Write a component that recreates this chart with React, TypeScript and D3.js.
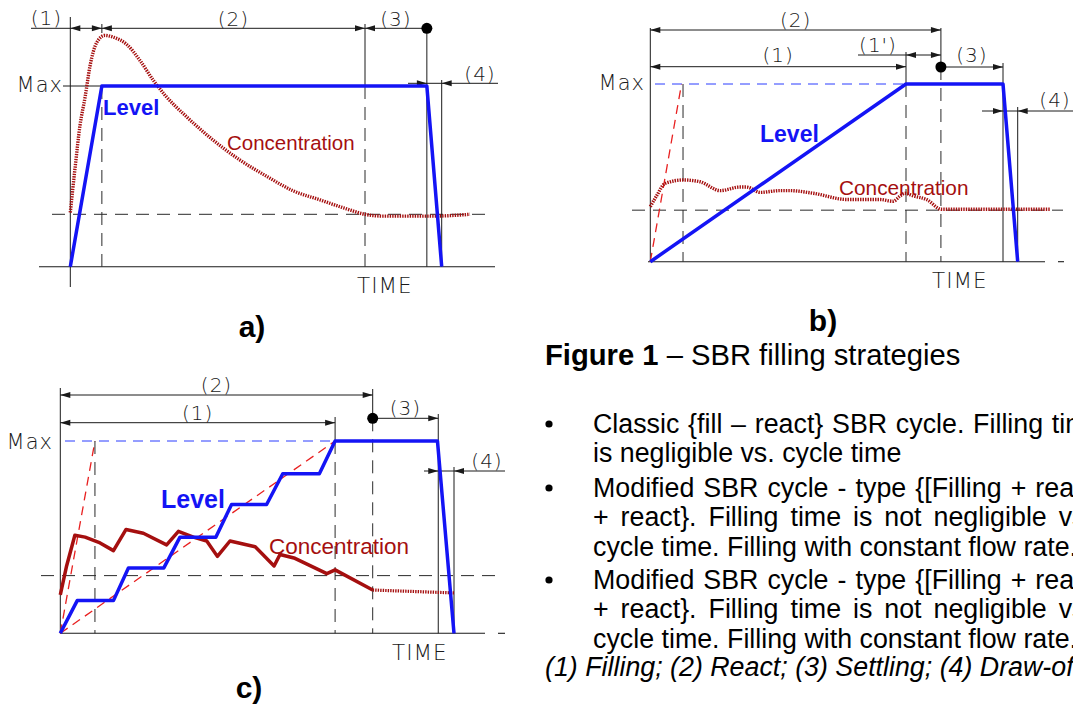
import React from "react";
import * as d3 from "d3";

// ---------------- a) classic fill - react cycle ----------------
const aLevelT = [0, 8.5, 96, 100];
const aLevelV = [0, 1, 1, 0];
const aConcT = [0, 1.3, 2.6, 4.0, 5.3, 7.1, 9.3, 11.6, 15.2, 18.8, 22.4, 25.9, 31.3, 38.5, 45.7, 52.9, 60.0, 67.2, 74.4, 79.3, 84.3, 97.7, 107.6];
const aConcV = [0.30, 0.55, 0.78, 0.94, 1.11, 1.24, 1.28, 1.27, 1.23, 1.14, 1.03, 0.94, 0.83, 0.70, 0.59, 0.50, 0.42, 0.37, 0.32, 0.29, 0.28, 0.28, 0.29];
const aPhases = [0, 8.5, 79.35, 96, 100]; // start, fill end, react end, settle end, draw-off end
const aResidual = 0.29;

// ---------------- b) constant flow filling ----------------
const bLevelT = [0, 69.6, 96, 100];
const bLevelV = [0, 1, 1, 0];
const bInstantT = [0, 8.5];
const bInstantV = [0, 1];
const bConcT = [0, 1.7, 4.0, 9.0, 13.5, 19.0, 24.4, 26.2, 29.9, 35.3, 38.0, 44.4, 53.5, 62.5, 66.1, 68.0, 69.3, 71.6, 75.2, 79.3, 85.2, 108.8];
const bConcV = [0.31, 0.37, 0.44, 0.46, 0.45, 0.40, 0.42, 0.42, 0.39, 0.40, 0.40, 0.385, 0.35, 0.35, 0.34, 0.37, 0.385, 0.37, 0.35, 0.295, 0.295, 0.295];
const bPhases = [0, 8.5, 69.6, 79.1, 96, 100]; // start, instant-fill ref, fill end, react end, settle end, draw-off end
const bResidual = 0.29;

// ---------------- c) stepwise filling ----------------
const cLevelT = [0, 4.3, 13.5, 17.3, 26.3, 30.4, 39.5, 43.5, 52.4, 56.5, 65.8, 69.8, 95.8, 100];
const cLevelV = [0, 0.17, 0.17, 0.34, 0.34, 0.50, 0.50, 0.67, 0.67, 0.83, 0.83, 1, 1, 0];
const cConcT = [0, 1.6, 3.7, 6.3, 10.1, 13.5, 16.7, 21.1, 27.0, 30.0, 33.8, 37.2, 39.9, 43.1, 49.5, 54.3, 55.8, 59.6, 67.7, 69.8, 79.35];
const cConcV = [0.20, 0.35, 0.51, 0.50, 0.47, 0.43, 0.54, 0.52, 0.46, 0.53, 0.50, 0.48, 0.40, 0.48, 0.45, 0.35, 0.41, 0.39, 0.31, 0.33, 0.225];
const cTailT = [79.35, 100];
const cTailV = [0.225, 0.21];
const cPhases = [0, 8.8, 69.8, 79.35, 96, 100];
const cResidual = 0.30;

// ---------------- caption text ----------------
const captionBold = "Figure 1";
const captionRest = " \u2013 SBR filling strategies";
const bulletLines = [
  ["Classic {fill \u2013 react} SBR cycle. Filling time", "is negligible vs. cycle time"],
  ["Modified SBR cycle - type {[Filling + react]", "+ react}. Filling time is not negligible vs.", "cycle time. Filling with constant flow rate."],
  ["Modified SBR cycle - type {[Filling + react]", "+ react}. Filling time is not negligible vs.", "cycle time. Filling with constant flow rate."],
];
const legendLine = "(1) Filling; (2) React; (3) Settling; (4) Draw-off";

const INK = "#1a1a1a";
const DASHINK = "#2a2a2a";
const BLUE = "#1414f5";
const RED = "#a50f0f";
const LRED = "#e82020";
const CAD: React.CSSProperties = { fontFamily: "'DejaVu Sans', sans-serif", fontWeight: 200 };
const ARIAL = "'Liberation Sans', Arial, sans-serif";
const DOTS = "1.4 1.1";

type XY = [number, number];

function Arrow({ x, y, dir }: { x: number; y: number; dir: number }) {
  const L = 10, H = 3;
  return <path d={`M${x},${y}L${x - dir * L},${y - H}L${x - dir * L},${y + H}Z`} fill={INK} />;
}
function HL({ x1, x2, y, dash, color = INK, w = 1 }: any) {
  return <line x1={x1} x2={x2} y1={y} y2={y} stroke={color} strokeWidth={w} strokeDasharray={dash} />;
}
function VL({ x, y1, y2, dash, color = INK, w = 1 }: any) {
  return <line x1={x} x2={x} y1={y1} y2={y2} stroke={color} strokeWidth={w} strokeDasharray={dash} />;
}
function CadText({ x, y, children, anchor = "middle", size = 20 }: any) {
  return (
    <text x={x} y={y} textAnchor={anchor} fontSize={size} style={CAD} fill={INK} letterSpacing={1}>
      {children}
    </text>
  );
}
function Dot({ x, y }: { x: number; y: number }) {
  return <circle cx={x} cy={y} r={5.5} fill="#000" />;
}

const BDASH = "13 8";

function makeScales(x0: number, x100: number, y0: number, yMax: number) {
  const x = d3.scaleLinear().domain([0, 100]).range([x0, x100]);
  const y = d3.scaleLinear().domain([0, 1]).range([y0, yMax]);
  return { x, y };
}
function pathFor(x: any, y: any, T: number[], V: number[], curve: any = d3.curveLinear) {
  const pts = d3.zip(T, V) as XY[];
  return d3.line<XY>().x((d) => x(d[0])).y((d) => y(d[1])).curve(curve)(pts) || "";
}

function PanelA() {
  const { x, y } = makeScales(70.3, 441.7, 266.7, 86);
  const [t0, tFill, tReact, tSettle, tDraw] = aPhases.map((v) => x(v));
  const top = 28.3, row4 = 83.3;
  return (
    <g>
      <HL x1={39} x2={495} y={y(0)} color={INK} w={1.1} />
      <VL x={t0} y1={17} y2={287} />
      <HL x1={52} x2={488} y={y(aResidual)} dash={BDASH} color={DASHINK} />
      <CadText x={63} y={92} anchor="end" size={21}>Max</CadText>
      <HL x1={63} x2={tFill} y={y(1)} />
      <VL x={tFill} y1={24} y2={33} />
      <VL x={tFill} y1={y(1)} y2={y(0)} dash={BDASH} color={DASHINK} />
      <VL x={tReact} y1={24} y2={y(1) - 1} />
      <VL x={tReact} y1={y(1)} y2={y(0)} dash={BDASH} color={DASHINK} />
      <VL x={tSettle} y1={top} y2={y(0)} />
      <VL x={tDraw} y1={80} y2={y(0)} />
      <HL x1={31} x2={tSettle} y={top} />
      <Arrow x={t0} y={top} dir={-1} />
      <Arrow x={tFill} y={top} dir={1} />
      <Arrow x={tFill} y={top} dir={-1} />
      <Arrow x={tReact} y={top} dir={1} />
      <Arrow x={tReact} y={top} dir={-1} />
      <Dot x={tSettle} y={top} />
      <HL x1={408} x2={498} y={row4} />
      <Arrow x={tSettle} y={row4} dir={1} />
      <Arrow x={tDraw} y={row4} dir={-1} />
      <CadText x={t0 - 24} y={25}>(1)</CadText>
      <CadText x={(tFill + tReact) / 2} y={26}>(2)</CadText>
      <CadText x={(tReact + tSettle) / 2} y={26}>(3)</CadText>
      <CadText x={480} y={81}>(4)</CadText>
      <CadText x={357} y={293} anchor="start" size={21.5}>TIME</CadText>
      <path d={pathFor(x, y, aConcT, aConcV, d3.curveMonotoneX)} fill="none" stroke={RED} strokeWidth={3.4} strokeDasharray={DOTS} />
      <path d={pathFor(x, y, aLevelT, aLevelV)} fill="none" stroke={BLUE} strokeWidth={3.5} strokeLinejoin="round" />
      <text x={103} y={115} fontFamily={ARIAL} fontWeight="bold" fontSize={22} fill={BLUE}>Level</text>
      <text x={227} y={150} fontFamily={ARIAL} fontSize={20.5} fill={RED}>Concentration</text>
      <text x={252} y={337} textAnchor="middle" fontFamily={ARIAL} fontWeight="bold" fontSize={30} fill="#000">a)</text>
    </g>
  );
}

function PanelB() {
  const { x, y } = makeScales(650.3, 1017.7, 261.7, 84);
  const [t0, tRef, tFill, tReact, tSettle, tDraw] = bPhases.map((v) => x(v));
  const r2 = 30, r1 = 66.7, r1p = 55, r3 = 67, r4 = 111;
  return (
    <g>
      <HL x1={648} x2={1045} y={y(0)} w={1.1} />
      <HL x1={1058} x2={1064} y={y(0)} w={1.1} />
      <VL x={t0} y1={28} y2={y(0)} />
      <HL x1={632} x2={1063} y={y(bResidual)} dash={BDASH} color={DASHINK} />
      <CadText x={645} y={90} anchor="end" size={21}>Max</CadText>
      <HL x1={655} x2={tFill} y={y(1)} dash="10 7" color="#2b3cff" />
      <path d={pathFor(x, y, bInstantT, bInstantV)} fill="none" stroke={LRED} strokeWidth={1.3} strokeDasharray="9 6" />
      <VL x={tRef + 1.5} y1={y(1)} y2={y(0)} dash={BDASH} color={DASHINK} />
      <VL x={tFill} y1={52} y2={y(1)} />
      <VL x={tFill} y1={y(1)} y2={y(0)} dash={BDASH} color={DASHINK} />
      <VL x={tReact} y1={28} y2={r3} />
      <VL x={tReact} y1={r3} y2={y(0)} dash={BDASH} color={DASHINK} />
      <VL x={tSettle} y1={63} y2={y(0)} />
      <VL x={tDraw} y1={107} y2={y(0)} />
      <HL x1={t0} x2={tReact} y={r2} />
      <Arrow x={t0} y={r2} dir={-1} />
      <Arrow x={tReact} y={r2} dir={1} />
      <HL x1={t0} x2={tFill} y={r1} />
      <Arrow x={t0} y={r1} dir={-1} />
      <Arrow x={tFill} y={r1} dir={1} />
      <HL x1={858} x2={tReact} y={r1p} />
      <Arrow x={tFill} y={r1p} dir={-1} />
      <Arrow x={tReact} y={r1p} dir={1} />
      <HL x1={tReact} x2={tSettle} y={r3} />
      <Arrow x={tSettle} y={r3} dir={1} />
      <Dot x={tReact} y={r3} />
      <HL x1={982} x2={1073} y={r4} />
      <Arrow x={tSettle} y={r4} dir={1} />
      <Arrow x={tDraw} y={r4} dir={-1} />
      <CadText x={(t0 + tReact) / 2} y={27}>(2)</CadText>
      <CadText x={(t0 + tFill) / 2} y={62}>(1)</CadText>
      <CadText x={878} y={52}>(1')</CadText>
      <CadText x={(tReact + tSettle) / 2} y={62}>(3)</CadText>
      <CadText x={1055} y={107}>(4)</CadText>
      <CadText x={932} y={288} anchor="start" size={21.5}>TIME</CadText>
      <path d={pathFor(x, y, bConcT, bConcV, d3.curveMonotoneX)} fill="none" stroke={RED} strokeWidth={3.4} strokeDasharray={DOTS} />
      <path d={pathFor(x, y, bLevelT, bLevelV)} fill="none" stroke={BLUE} strokeWidth={3.5} strokeLinejoin="round" />
      <text x={760} y={142} fontFamily={ARIAL} fontWeight="bold" fontSize={23} fill={BLUE}>Level</text>
      <text x={839} y={195} fontFamily={ARIAL} fontSize={20.8} fill={RED}>Concentration</text>
      <text x={823} y={331} textAnchor="middle" fontFamily={ARIAL} fontWeight="bold" fontSize={30} fill="#000">b)</text>
    </g>
  );
}

function PanelC() {
  const { x, y } = makeScales(60.3, 454, 633.3, 441);
  const [t0, tRef, tFill, tReact, tSettle, tDraw] = cPhases.map((v) => x(v));
  const r2 = 395, r1 = 422.7, r3 = 418.3, r4 = 471;
  return (
    <g>
      <HL x1={60} x2={485} y={y(0)} w={1.1} />
      <HL x1={498} x2={505} y={y(0)} w={1.1} />
      <VL x={t0} y1={388} y2={y(0)} />
      <HL x1={41} x2={503} y={y(cResidual)} dash={BDASH} color={DASHINK} />
      <CadText x={53} y={449} anchor="end" size={21}>Max</CadText>
      <HL x1={65} x2={tFill} y={y(1)} dash="10 7" color="#2b3cff" />
      <path d={pathFor(x, y, [0, cPhases[1]], [0, 1])} fill="none" stroke={LRED} strokeWidth={1.3} strokeDasharray="9 6" />
      <path d={pathFor(x, y, [0, cPhases[2]], [0, 1])} fill="none" stroke={LRED} strokeWidth={1.3} strokeDasharray="9 6" />
      <VL x={tRef} y1={y(1)} y2={y(0)} dash={BDASH} color={DASHINK} />
      <VL x={tFill} y1={417} y2={y(1)} />
      <VL x={tFill} y1={y(1)} y2={y(0)} dash={BDASH} color={DASHINK} />
      <VL x={tReact} y1={389} y2={r3} />
      <VL x={tReact} y1={r3} y2={y(0)} dash={BDASH} color={DASHINK} />
      <VL x={tSettle} y1={414} y2={y(0)} />
      <VL x={tDraw} y1={467} y2={y(0)} />
      <HL x1={t0} x2={tReact} y={r2} />
      <Arrow x={t0} y={r2} dir={-1} />
      <Arrow x={tReact} y={r2} dir={1} />
      <HL x1={t0} x2={tFill} y={r1} />
      <Arrow x={t0} y={r1} dir={-1} />
      <Arrow x={tFill} y={r1} dir={1} />
      <HL x1={tReact} x2={tSettle} y={r3} />
      <Arrow x={tSettle} y={r3} dir={1} />
      <Dot x={tReact} y={r3} />
      <HL x1={424} x2={505} y={r4} />
      <Arrow x={tSettle} y={r4} dir={1} />
      <Arrow x={tDraw} y={r4} dir={-1} />
      <CadText x={(t0 + tReact) / 2} y={392}>(2)</CadText>
      <CadText x={(t0 + tFill) / 2} y={420}>(1)</CadText>
      <CadText x={(tReact + tSettle) / 2} y={415}>(3)</CadText>
      <CadText x={487} y={468}>(4)</CadText>
      <CadText x={392} y={660} anchor="start" size={21.5}>TIME</CadText>
      <path d={pathFor(x, y, cConcT, cConcV)} fill="none" stroke={RED} strokeWidth={3.5} strokeLinejoin="round" />
      <path d={pathFor(x, y, cTailT, cTailV)} fill="none" stroke={RED} strokeWidth={3.2} strokeDasharray={DOTS} />
      <path d={pathFor(x, y, cLevelT, cLevelV)} fill="none" stroke={BLUE} strokeWidth={3.5} strokeLinejoin="round" />
      <text x={161} y={508} fontFamily={ARIAL} fontWeight="bold" fontSize={25} fill={BLUE}>Level</text>
      <text x={269} y={554} fontFamily={ARIAL} fontSize={22.5} fill={RED}>Concentration</text>
      <text x={249} y={698} textAnchor="middle" fontFamily={ARIAL} fontWeight="bold" fontSize={30} fill="#000">c)</text>
    </g>
  );
}

function Caption() {
  const fs = 26.8;
  const baselines = [[433, 462], [497, 526, 556], [589, 618, 648]];
  const wordSpacing = [[1.3, 0], [1.6, 4.5, 0], [1.6, 4.5, 0]];
  return (
    <g fontFamily={ARIAL} fill="#000">
      <text x={545} y={365} fontSize={29.2}>
        <tspan fontWeight="bold">{captionBold}</tspan>
        <tspan>{captionRest}</tspan>
      </text>
      {bulletLines.map((lines, i) => (
        <g key={i}>
          <circle cx={549} cy={baselines[i][0] - 9} r={3.6} fill="#000" />
          {lines.map((ln, j) => (
            <text key={j} x={593} y={baselines[i][j]} fontSize={fs} wordSpacing={wordSpacing[i][j]}>
              {ln}
            </text>
          ))}
        </g>
      ))}
      <text x={545} y={676} fontSize={fs} fontStyle="italic">{legendLine}</text>
    </g>
  );
}

export default function App() {
  return (
    <svg width={1073} height={704} style={{ position: "absolute", left: 0, top: 0, display: "block" }}>
      <rect width={1073} height={704} fill="#fff" />
      <PanelA />
      <PanelB />
      <PanelC />
      <Caption />
    </svg>
  );
}
